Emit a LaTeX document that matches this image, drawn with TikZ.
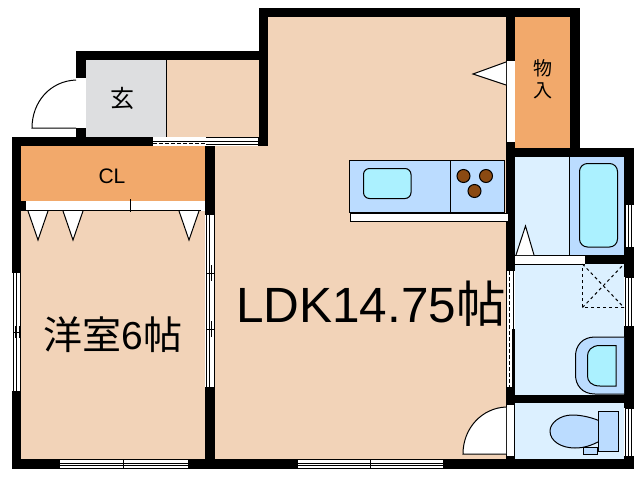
\documentclass[tikz,border=0pt]{standalone}
\usepackage{fontspec}
\setmainfont{Liberation Sans}
\newfontfamily\cjk{Noto Sans CJK JP}
\definecolor{floorc}{HTML}{F2D3B8}
\definecolor{storec}{HTML}{F2A96B}
\definecolor{entryc}{HTML}{DDDEE0}
\definecolor{wetc}{HTML}{DCF0FF}
\definecolor{fixc}{HTML}{BBDCFF}
\definecolor{waterc}{HTML}{ABF1FF}
\definecolor{burnc}{HTML}{8B4A12}
\begin{document}
\begin{tikzpicture}[x=1pt,y=-1pt]
\tikzstyle{every path}=[line width=1pt];
\tikzstyle{wall}=[fill=black,draw=none];
\tikzstyle{opening}=[fill=white,draw=none];
\tikzstyle{fixture}=[draw=black,fill=fixc];
\tikzstyle{basin}=[draw=black,fill=waterc,rounded corners=6pt];
\tikzstyle{leaf}=[draw=black,fill=white];
\useasboundingbox (0,0) rectangle (640,480);
\fill[white] (0,0) rectangle (640,480);
% floors
\fill[floorc] (268,17) -- (506,17) -- (506,459) -- (215,459) -- (215,146) -- (268,146) -- cycle;
\fill[floorc] (21,211) rectangle (205,459);
\fill[floorc] (166,60) rectangle (259,137);
\fill[entryc] (86,60) rectangle (166,137);
\fill[storec] (21,146) rectangle (205,201);
\fill[storec] (515,17) rectangle (570,148);
\fill[wetc] (515,157) rectangle (624,459);
% walls
\foreach \xa/\ya/\xb/\yb in {259/8/580/17, 259/8/268/146, 76/51/268/60, 76/51/86/78, 76/128/86/146,
  12/137/153/146, 12/137/21/273, 12/391/21/469, 12/201/26/211, 205/146/215/215, 205/387/215/469,
  12/459/634/469, 570/8/580/157, 506/8/515/61, 506/142/515/271, 506/148/634/157,
  624/148/634/204, 624/247/634/277, 624/326/634/408, 624/456/634/469,
  585/255/634/264, 506/395/624/403, 506/387/515/405, 506/456/515/469}
  \path[wall] (\xa,\ya) rectangle (\xb,\yb);
% openings
\foreach \xa/\ya/\xb/\yb in {77/78/86/128, 26/201/201/210, 205/215/215/387, 12/273/21/391,
  60/459/188/469, 298/459/443/469, 506/61/515/142, 506/271/515/387, 506/405/515/456,
  515/255/585/264, 624/204/634/247, 624/277/634/326, 624/408/634/456, 153/137/258/146}
  \path[opening] (\xa,\ya) rectangle (\xb,\yb);
% window lines
\foreach \xa/\xb in {60/188, 298/443} {
  \draw (\xa,459.5) -- (\xb,459.5);
  \draw (\xa,463) -- (\xb,463);
  \draw (\xa,465) -- (\xb,465);
  \draw (\xa,468.5) -- (\xb,468.5);
}
\draw (123,459) -- (123,469);
\draw (370,459) -- (370,469);
\foreach \ya/\yb in {273/391} {
  \draw (13,\ya) -- (13,\yb);
  \draw (16,\ya) -- (16,\yb);
  \draw (20.5,\ya) -- (20.5,\yb);
}
\draw (13,332) -- (21,332);
\draw (15,326) -- (15,338);
\draw (19,326) -- (19,338);
\draw (206,215) -- (206,387);
\draw (209,215) -- (209,387);
\draw (214,215) -- (214,387);
\foreach \yb in {273,329} {
  \draw (206,\yb) -- (215,\yb);
  \draw (211,\yb-8) -- (211,\yb+8);
}
\foreach \ya/\yb in {204/247, 277/326, 408/456} {
  \draw (625,\ya) -- (625,\yb);
  \draw (628,\ya) -- (628,\yb);
  \draw (631,\ya) -- (631,\yb);
  \draw (625,\ya) -- (634,\ya);
}
\draw (153,141.5) -- (258,141.5);
\draw[dashed,dash pattern=on 4pt off 2pt] (153,143.5) -- (206,143.5);
\draw (206,137.5) -- (258,137.5);
\draw (206,144.5) -- (258,144.5);
\draw (258,137) -- (258,146);
% door tracks
\draw (26,210.5) -- (201,210.5);
\draw (130,199) -- (130,212);
\draw (506.5,61) -- (506.5,142);
\draw (506.5,271) -- (506.5,387);
\draw[dashed,dash pattern=on 4pt off 2pt] (509,271) -- (509,387);
\draw (513,271) -- (513,387);
\path[wall] (512,329) rectangle (515,387);
\draw (515,255) -- (585,255);
\draw (515,264) -- (585,264);
\draw (506.5,405) -- (506.5,456);
\draw (514.5,405) -- (514.5,456);
\draw (166,60) -- (166,137);
% doors
\draw (76,80) .. controls (50,81) and (32,102) .. (32,128) -- (76,128);
\draw[leaf] (506,407) .. controls (482,408) and (463,428) .. (463,454) -- (506,454);
\draw[leaf] (506,62) -- (473,74) -- (506,85);
\draw[leaf] (516,255) -- (525.5,226) -- (534,255);
\foreach \xa/\xb in {28/38, 63/73, 179/189}
  \draw[leaf] (\xa,211) -- (\xb,240) -- (\xb+10,211);
% kitchen
\draw[fixture] (349.5,160.5) rectangle (504,212);
\draw (450.5,160.5) -- (450.5,212);
\draw[leaf] (350,213.5) rectangle (508,221);
\draw[basin] (363.5,168.5) rectangle (411,198.5);
\foreach \cx/\cy in {463.5/176, 486/176, 474.5/191}
  \draw[fill=burnc] (\cx,\cy) circle (6.5pt);
% bath
\draw[draw=black,fill=fixc] (569.5,157) rectangle (624,255);
\path[fixture,draw=none] (570,157) rectangle (624,255);
\draw[basin,rounded corners=8pt] (579.5,163.5) rectangle (617.5,247);
% drain
\draw[dashed] (624,307.5) -- (582.5,307.5) -- (582.5,264);
\draw[dashed] (582.5,307.5) -- (624,264);
\draw[dashed] (582.5,264) -- (624,307.5);
% wash
\draw[fixture] (624,337) -- (595,337) .. controls (582,337) and (575.5,346) .. (575.5,356)
  -- (575.5,375) .. controls (575.5,385) and (582,394) .. (595,394) -- (624,394);
\draw[fill=waterc] (616,345.5) -- (600,345.5) .. controls (591,345.5) and (587.5,351) .. (587.5,356)
  -- (587.5,376) .. controls (587.5,381) and (591,386) .. (600,386) -- (616,386) -- cycle;
% toilet
\draw[fixture] (600,421) .. controls (588,416) and (578,415) .. (572,415) .. controls (560,415) and (550,423) .. (550,431)
  .. controls (550,441) and (561,448) .. (575,448) .. controls (585,448) and (592,445) .. (600,441);
\draw[fixture] (598.5,411.5) rectangle (618,451);
\draw[fixture] (583.5,447.5) rectangle (597.5,454.5);
% labels
\node[inner sep=0pt] (ldk) at (371,304) {\fontsize{49.5pt}{49.5pt}\selectfont LDK14.75{\cjk 帖}};
\node[inner sep=0pt] (yoshitsu) at (113,335) {\fontsize{39pt}{39pt}\selectfont {\cjk 洋室}6{\cjk 帖}};
\node[inner sep=0pt] (cl) at (112,176) {\fontsize{21pt}{21pt}\selectfont CL};
\node[inner sep=0pt] (genkan) at (122,98) {\fontsize{24pt}{24pt}\selectfont\cjk 玄};
\node[inner sep=0pt] (mono) at (543,68) {\fontsize{19pt}{19pt}\selectfont\cjk 物};
\node[inner sep=0pt] (iri) at (543,91) {\fontsize{19pt}{19pt}\selectfont\cjk 入};
\end{tikzpicture}
\end{document}
